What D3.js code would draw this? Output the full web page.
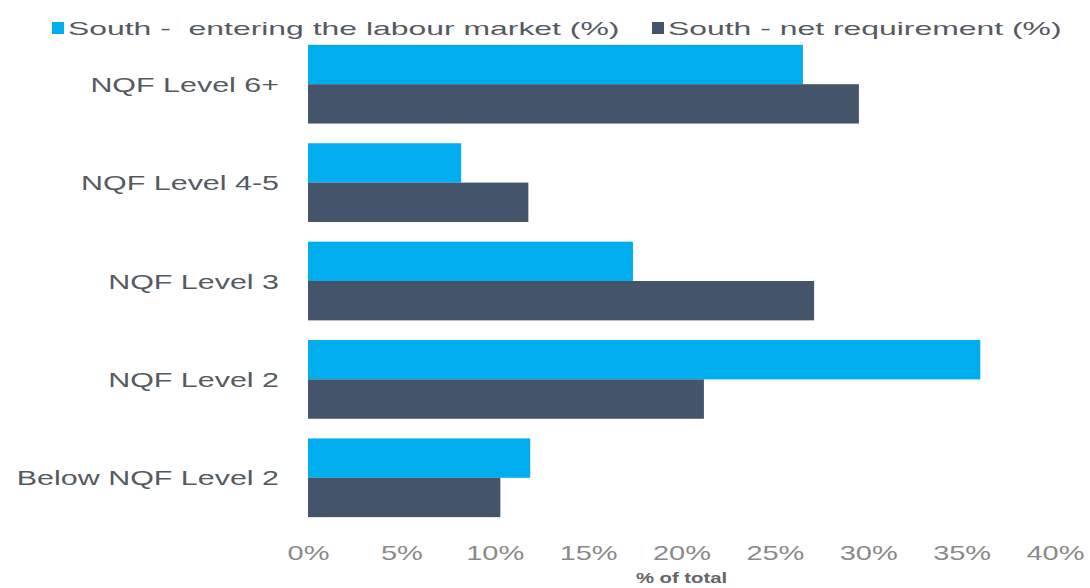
<!DOCTYPE html>
<html>
<head>
<meta charset="utf-8">
<script src="https://cdn.jsdelivr.net/npm/d3@7"></script>
<style>
  html, body { margin: 0; padding: 0; background: #ffffff; }
  svg { display: block; font-family: "Liberation Sans", Arial, sans-serif; }
</style>
</head>
<body>
<svg id="chart" width="1090" height="588"></svg>
<script>
// Share of people by qualification level, South region
const categories = ["NQF Level 6+", "NQF Level 4-5", "NQF Level 3", "NQF Level 2", "Below NQF Level 2"];
const seriesNames = ["South -  entering the labour market (%)", "South - net requirement (%)"];
const entering = [26.5, 8.2, 17.4, 36.0, 11.9];
const netRequirement = [29.5, 11.8, 27.1, 21.2, 10.3];
const xTicks = [0, 5, 10, 15, 20, 25, 30, 35, 40];
const xTitle = "% of total";

const colors = ["#00aeef", "#44546a"];
const stretch = 1.45;       // glyphs are drawn horizontally widened
const legendStretch = 1.68;

const svg = d3.select("#chart");
const rows = categories.map((c, i) => ({ cat: c, values: [entering[i], netRequirement[i]] }));

const x = d3.scaleLinear().domain([0, 40]).range([308, 1055]);
const y = d3.scaleBand().domain(categories).range([35, 527]).paddingInner(0.2).paddingOuter(0.1);
const ySub = d3.scaleBand().domain([0, 1]).range([0, y.bandwidth()]);

// bars
const groups = svg.append("g").selectAll("g").data(rows).join("g")
  .attr("transform", d => `translate(0,${y(d.cat)})`);
groups.selectAll("rect").data(d => d.values.map((v, k) => ({ v, k }))).join("rect")
  .attr("x", x(0))
  .attr("y", d => ySub(d.k))
  .attr("width", d => x(d.v) - x(0))
  .attr("height", ySub.bandwidth())
  .attr("fill", d => colors[d.k]);

// category axis
const yAxis = svg.append("g").attr("transform", `translate(${x(0)},0)`)
  .call(d3.axisLeft(y).tickSize(0).tickPadding(0));
yAxis.select(".domain").remove();
yAxis.selectAll("text")
  .attr("x", -29 / stretch)
  .attr("dy", "0.36em")
  .attr("transform", `scale(${stretch},1)`)
  .style("font-size", "21px")
  .style("font-family", "'Liberation Sans', Arial, sans-serif")
  .attr("fill", "#555a5f");

// value axis
const xAxis = svg.append("g").attr("transform", `translate(0,527)`)
  .call(d3.axisBottom(x).tickValues(xTicks).tickFormat(d => d + "%").tickSize(0).tickPadding(0));
xAxis.select(".domain").remove();
xAxis.selectAll("text")
  .attr("y", 0)
  .attr("dy", "33px")
  .attr("transform", `scale(${stretch},1)`)
  .style("font-size", "20px")
  .style("font-family", "'Liberation Sans', Arial, sans-serif")
  .attr("fill", "#8a8a8a");

// axis title
svg.append("text")
  .attr("transform", `translate(${(x(0) + x(40)) / 2},583) scale(${stretch},1)`)
  .attr("text-anchor", "middle")
  .style("font-size", "14px")
  .style("font-weight", "bold")
  .attr("fill", "#666666")
  .text(xTitle);

// legend
const legendX = [52, 652];
const legend = svg.append("g").selectAll("g").data(seriesNames).join("g")
  .attr("transform", (d, i) => `translate(${legendX[i]},0)`);
legend.append("rect")
  .attr("x", 0).attr("y", 22).attr("width", 12).attr("height", 12)
  .attr("fill", (d, i) => colors[i]);
legend.append("text")
  .attr("transform", `translate(16,35) scale(${legendStretch},1)`)
  .style("font-size", "19px")
  .style("white-space", "pre")
  .attr("xml:space", "preserve")
  .attr("fill", "#555a5f")
  .text(d => d);
</script>
</body>
</html>
